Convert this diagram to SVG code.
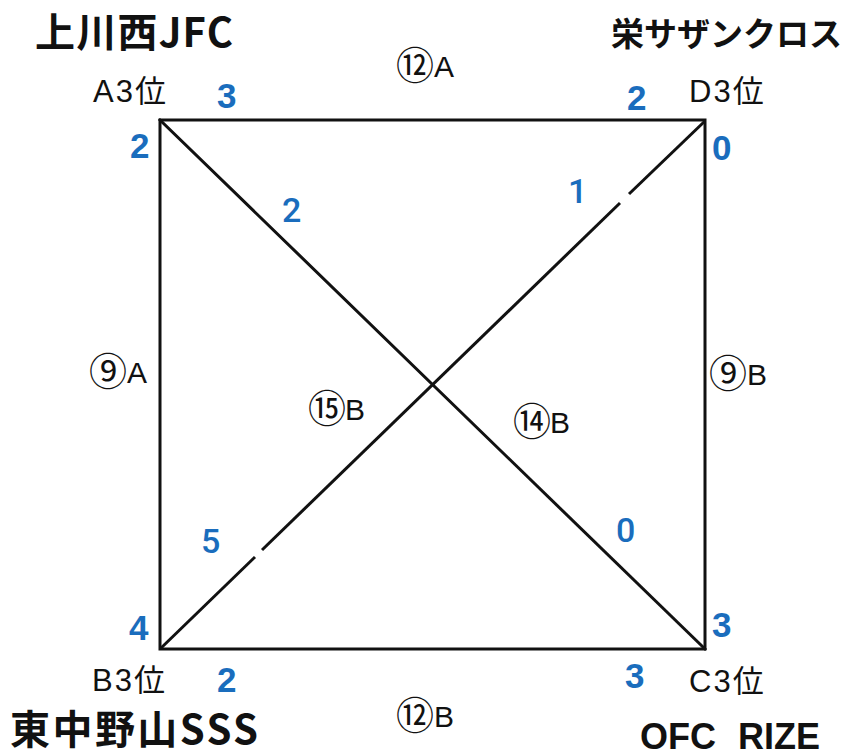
<svg xmlns="http://www.w3.org/2000/svg" width="851" height="756" viewBox="0 0 851 756">
<style>
.team{font-family:"Noto Sans CJK JP","Liberation Sans",sans-serif;font-weight:700;font-size:40px;fill:#111}
.rank{font-family:"Liberation Sans","Noto Sans CJK JP",sans-serif;font-size:31px;fill:#111;letter-spacing:2px}
.lab{font-family:"Liberation Sans",sans-serif;font-size:30px;fill:#111}
.score{font-family:"Liberation Sans",sans-serif;font-weight:700;font-size:35px;fill:#1a6dbd}
.inner{font-family:Roboto,"Liberation Sans",sans-serif;font-weight:500;font-size:34px;fill:#1a6dbd}
.match{font-family:"Noto Sans CJK JP",sans-serif;font-size:38px;fill:#111}
.ln{stroke:#111;stroke-width:3;fill:none;stroke-linecap:square}
</style>
<rect width="851" height="756" fill="#fff"/>
<g id="connectors">
<rect class="ln" x="160" y="120" width="545" height="529"/>
<line class="ln" x1="160" y1="120" x2="705" y2="649"/>
<line class="ln" x1="160" y1="649" x2="255" y2="557" style="stroke-linecap:butt"/>
<line class="ln" x1="262" y1="550" x2="620" y2="203" style="stroke-linecap:butt"/>
<line class="ln" x1="629" y1="194" x2="705" y2="121" style="stroke-linecap:butt"/>
</g>
<g id="nodeA">
<text class="team" x="35" y="47" textLength="198" lengthAdjust="spacing">上川西JFC</text>
<text class="rank" x="93" y="102">A3位</text>
</g>
<g id="nodeD">
<text class="team" x="611" y="46" style="font-size:33px">栄サザンクロス</text>
<text class="rank" x="689" y="102">D3位</text>
</g>
<g id="nodeB">
<text class="team" x="10" y="744" textLength="248" lengthAdjust="spacing">東中野山SSS</text>
<text class="rank" x="92" y="691">B3位</text>
</g>
<g id="nodeC">
<text x="640" y="749" style="font-family:'Liberation Sans',sans-serif;font-weight:700;font-size:36px;fill:#111;word-spacing:12px">OFC RIZE</text>
<text class="rank" x="689" y="692">C3位</text>
</g>
<g id="scores">
<text class="score" x="217" y="108">3</text>
<text class="score" x="627" y="110">2</text>
<text class="score" x="130" y="158">2</text>
<text class="score" x="712" y="160">0</text>
<text class="score" x="129" y="640">4</text>
<text class="score" x="712" y="637">3</text>
<text class="score" x="217" y="692">2</text>
<text class="score" x="625" y="688">3</text>
<text class="inner" x="282" y="222">2</text>
<text class="inner" x="568" y="203">1</text>
<text class="inner" x="201" y="553">5</text>
<text class="inner" x="616" y="542">0</text>
</g>
<g id="matches">
<text class="match" x="396" y="79">⑫</text><text class="lab" x="434" y="77">A</text>
<text class="match" x="396" y="729">⑫</text><text class="lab" x="434" y="727">B</text>
<text class="match" x="89" y="385">⑨</text><text class="lab" x="127" y="383">A</text>
<text class="match" x="709" y="387">⑨</text><text class="lab" x="747" y="385">B</text>
<text class="match" x="308" y="422">⑮</text><text class="lab" x="345" y="420">B</text>
<text class="match" x="513" y="435">⑭</text><text class="lab" x="550" y="433">B</text>
</g>
</svg>
